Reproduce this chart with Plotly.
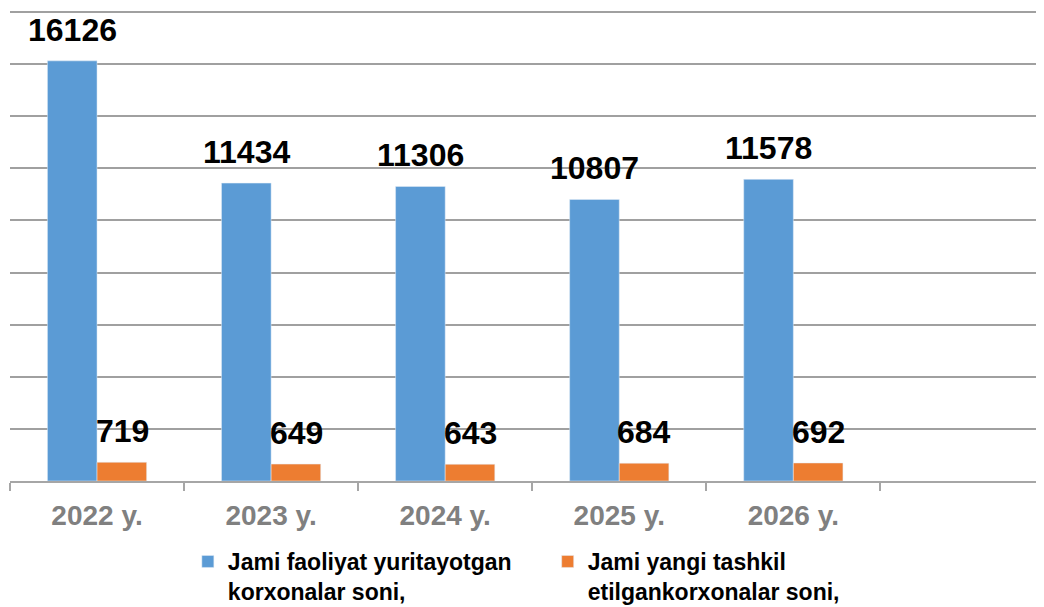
import plotly.graph_objects as go

years = ["2022 y.", "2023 y.", "2024 y.", "2025 y.", "2026 y."]
slots = years + [" "]
active = [16126, 11434, 11306, 10807, 11578]
new_est = [719, 649, 643, 684, 692]
name_active = "Jami faoliyat yuritayotgan<br>korxonalar soni,"
name_new = "Jami yangi tashkil<br>etilgankorxonalar soni,"

FONT = "Arial, Liberation Sans, sans-serif"
BLUE = "#5B9BD5"
ORANGE = "#ED7D31"

fig = go.Figure()
fig.add_trace(go.Bar(x=years, y=active, name=name_active, marker_color=BLUE,
                     legend="legend", showlegend=True))
fig.add_trace(go.Bar(x=years, y=new_est, name=name_new, marker_color=ORANGE,
                     legend="legend2", showlegend=True))

ann = []
for xs, vals in ((-25, active), (25, new_est)):
    for c, v in zip(years, vals):
        ann.append(dict(x=c, y=v, xref="x", yref="y", text=f"<b>{v}</b>",
                        showarrow=False, yanchor="bottom", xshift=xs, yshift=11,
                        font=dict(family=FONT, size=32, color="black")))

LEG_Y = 1 - 532 / 599
legend_style = dict(y=LEG_Y, yref="container", yanchor="top", xanchor="left",
                    orientation="h", itemwidth=30, bgcolor="rgba(0,0,0,0)",
                    visible=True, valign="top",
                    font=dict(family=FONT, size=23, color="black", weight="bold"))

fig.update_layout(
    width=1036, height=599,
    margin=dict(l=2, r=0, t=3, b=126),
    paper_bgcolor="white", plot_bgcolor="white",
    barmode="group", bargap=0.43, bargroupgap=0,
    annotations=ann,
    showlegend=True,
    font=dict(family=FONT),
    legend=dict(x=0.172, **legend_style),
    legend2=dict(x=0.52, **legend_style),
)
fig.update_xaxes(type="category", categoryorder="array", categoryarray=slots,
                 range=[-0.5, 5.44], showline=True, linecolor="#a6a6a6", linewidth=1.5,
                 ticks="outside", tickson="boundaries", ticklen=8, tickcolor="#a6a6a6",
                 tickwidth=1.5, showgrid=False, ticklabelstandoff=9,
                 tickfont=dict(family=FONT, size=28, color="#808080", weight="bold"))
fig.update_yaxes(range=[0, 18040], tickmode="linear", tick0=0, dtick=2000,
                 showticklabels=False, showgrid=True,
                 gridcolor="#a0a0a0", gridwidth=1.5, zeroline=False, showline=False)

fig.write_html("out.html")
